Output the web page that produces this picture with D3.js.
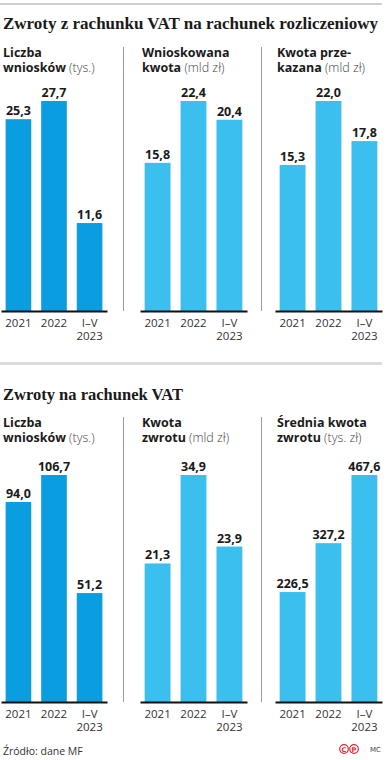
<!DOCTYPE html>
<html><head><meta charset="utf-8">
<script src="https://cdn.jsdelivr.net/npm/d3@7"></script>
<style>
body{margin:0;background:#fff;}
svg{display:block;}
</style></head>
<body>
<svg id="c" width="392" height="760"></svg>
<script>
// ---- data ----
const years = ["2021", "2022", "I–V|2023"];
const settlementCount = [25.3, 27.7, 11.6];
const settlementRequested = [15.8, 22.4, 20.4];
const settlementTransferred = [15.3, 22.0, 17.8];
const refundCount = [94.0, 106.7, 51.2];
const refundAmount = [21.3, 34.9, 23.9];
const refundAverage = [226.5, 327.2, 467.6];

const sectionTitles = ["Zwroty z rachunku VAT na rachunek rozliczeniowy", "Zwroty na rachunek VAT"];
const panelTitles1 = [
  [["Liczba", ""], ["wniosków", " (tys.)"]],
  [["Wnioskowana", ""], ["kwota", " (mld zł)"]],
  [["Kwota prze-", ""], ["kazana", " (mld zł)"]]
];
const panelTitles2 = [
  [["Liczba", ""], ["wniosków", " (tys.)"]],
  [["Kwota", ""], ["zwrotu", " (mld zł)"]],
  [["Średnia kwota", ""], ["zwrotu", " (tys. zł)"]]
];

const svg = d3.select("#c");
const DARK = "#0a9de0", LIGHT = "#3bbfef";
const fmt = v => d3.format(".1f")(v).replace(".", ",");

// top rule & separator
svg.append("rect").attr("x", 0).attr("y", 3).attr("width", 382).attr("height", 2).attr("fill", "#cfcfcf");
svg.append("rect").attr("x", 0).attr("y", 362).attr("width", 382).attr("height", 3).attr("fill", "#dcdcdc");

const panelRanges = [[1, 107], [140, 247], [275, 382]];
const titleX = [3, 142, 277];
const sepX = [123.5, 261.5];

function section(opts) {
  svg.append("text").attr("x", 3).attr("y", opts.titleY)
    .attr("font-family", "Liberation Serif").attr("font-weight", "bold")
    .attr("font-size", 17).attr("fill", "#1a1a1a")
    .attr("textLength", opts.titleW).attr("lengthAdjust", "spacingAndGlyphs")
    .text(opts.title);
  sepX.forEach(x => svg.append("line").attr("x1", x).attr("x2", x)
    .attr("y1", opts.subY - 10).attr("y2", opts.base).attr("stroke", "#9a9a9a").attr("stroke-width", 1));
  opts.panels.forEach((vals, i) => {
    opts.titles[i].forEach((line, li) => {
      const t = svg.append("text").attr("font-family", "Open Sans").attr("font-size", 12.5)
        .attr("fill", "#1a1a1a").attr("x", titleX[i]).attr("y", opts.subY + li * 14.5);
      t.append("tspan").attr("font-weight", 700).text(line[0]);
      if (line[1]) t.append("tspan").attr("font-weight", 300).attr("fill", "#444").text(line[1]);
    });
    const x = d3.scaleBand().domain(years).range(panelRanges[i]).paddingInner(0.28).paddingOuter(0.13);
    const y = d3.scaleLinear().domain([0, d3.max(vals)]).range([opts.base, opts.base - opts.maxH]);
    const g = svg.append("g");
    g.selectAll("rect").data(vals).join("rect")
      .attr("x", (d, j) => x(years[j])).attr("width", x.bandwidth())
      .attr("y", d => y(d)).attr("height", d => opts.base - y(d))
      .attr("fill", i === 0 ? DARK : LIGHT);
    g.selectAll("text.v").data(vals).join("text").attr("class", "v")
      .attr("x", (d, j) => x(years[j]) + x.bandwidth() / 2).attr("y", d => y(d) - 4)
      .attr("text-anchor", "middle").attr("font-family", "Open Sans").attr("font-weight", 700)
      .attr("font-size", 12.5).attr("fill", "#1a1a1a").text(d => fmt(d));
    const ax = svg.append("g").attr("transform", `translate(0,${opts.base})`)
      .call(d3.axisBottom(x).tickSize(0).tickSizeOuter(0).tickFormat(() => ""));
    ax.select(".domain").attr("stroke", "#111").attr("stroke-width", 2);
    ax.selectAll(".tick text").remove();
    ax.selectAll(".tick").each(function (d) {
      const parts = d.split("|");
      parts.forEach((p, k) => d3.select(this).append("text").attr("text-anchor", "middle")
        .attr("font-family", "Open Sans").attr("font-size", 11.5).attr("fill", "#333")
        .attr("x", 0).attr("y", 16 + k * 12.5).text(p));
    });
  });
}

section({ title: sectionTitles[0], titleY: 29, titleW: 375, subY: 57, base: 311, maxH: 210,
  panels: [settlementCount, settlementRequested, settlementTransferred], titles: panelTitles1 });
section({ title: sectionTitles[1], titleY: 400, titleW: 180, subY: 427, base: 702, maxH: 227,
  panels: [refundCount, refundAmount, refundAverage], titles: panelTitles2 });

// footer
svg.append("text").attr("x", 3).attr("y", 755).attr("font-family", "Open Sans").attr("font-size", 10.5)
  .attr("fill", "#333").text("Źródło: dane MF");
[["C", 344], ["P", 354]].forEach(([s, cx]) => {
  svg.append("circle").attr("cx", cx).attr("cy", 749).attr("r", 4.3).attr("fill", "none")
    .attr("stroke", "#e0282e").attr("stroke-width", 1.2);
  svg.append("text").attr("x", cx).attr("y", 752).attr("text-anchor", "middle")
    .attr("font-family", "DejaVu Sans").attr("font-weight", "bold").attr("font-size", 6.5)
    .attr("fill", "#e0282e").text(s);
});
svg.append("text").attr("x", 370).attr("y", 752).attr("font-family", "DejaVu Sans").attr("font-size", 7)
  .attr("fill", "#444").text("MC");
</script>
</body></html>
